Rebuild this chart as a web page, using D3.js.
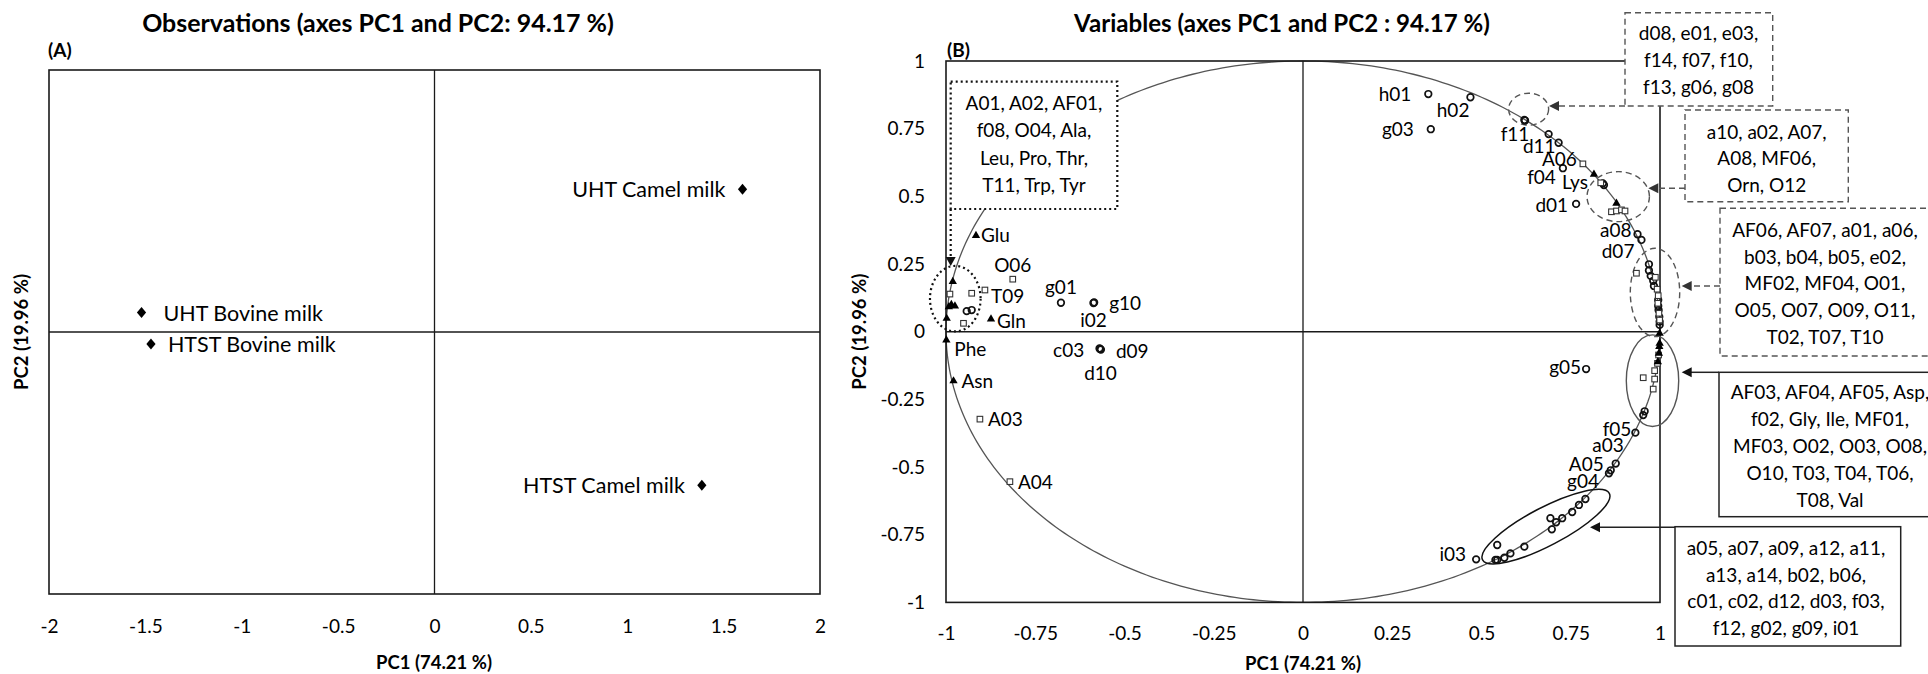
<!DOCTYPE html>
<html><head><meta charset="utf-8">
<script src="https://cdn.jsdelivr.net/npm/d3@7"></script>
<style>
body{margin:0;background:#fff;}
svg text{font-family:Lato,"Open Sans","Liberation Sans",sans-serif;fill:#000;}
</style>
</head><body>
<svg id="chart" width="1928" height="674"></svg>
<script>
// ================= DATA =================
// Panel A: observations
const obsNames = ["UHT Camel milk", "HTST Camel milk", "UHT Bovine milk", "HTST Bovine milk"];
const obsPC1   = [1.598, 1.387, -1.520, -1.471];
const obsPC2   = [1.090, -1.170, 0.148, -0.092];
const obsTicksX = [-2, -1.5, -1, -0.5, 0, 0.5, 1, 1.5, 2];

// Panel B: variables (correlation circle)
const varTicks = [-1, -0.75, -0.5, -0.25, 0, 0.25, 0.5, 0.75, 1];

const circlesLabelled = [
  ["h01", 0.351, 0.878], ["h02", 0.469, 0.866], ["g03", 0.358, 0.748],
  ["f11", 0.620, 0.782], ["d11", 0.716, 0.698], ["f04", 0.728, 0.604],
  ["d01", 0.765, 0.472], ["a08", 0.937, 0.360], ["d07", 0.948, 0.339],
  ["g05", 0.793, -0.138], ["f05", 0.931, -0.373], ["a03", 0.876, -0.487],
  ["A05", 0.862, -0.512], ["g04", 0.857, -0.523], ["i03", 0.485, -0.841],
  ["g01", -0.678, 0.107], ["g10", -0.585, 0.108], ["i02", -0.587, 0.106],
  ["c03", -0.568, -0.064], ["d09", -0.566, -0.066], ["d10", -0.570, -0.062]
];
const circlesOther = [
  [0.622, 0.780], [0.688, 0.730], [0.840, 0.548], [0.843, 0.542],
  [0.969, 0.249], [0.969, 0.226], [0.974, 0.206], [0.981, 0.188], [0.983, 0.169],
  [0.995, 0.117], [0.995, 0.095], [0.996, 0.080], [0.998, 0.055], [0.999, 0.037], [0.999, 0.025],
  [0.957, -0.294], [0.953, -0.308],
  [0.791, -0.618], [0.773, -0.640], [0.754, -0.666], [0.726, -0.689], [0.709, -0.704],
  [0.693, -0.689], [0.697, -0.730], [0.620, -0.794], [0.581, -0.819], [0.564, -0.835],
  [0.544, -0.843], [0.539, -0.843], [0.544, -0.788],
  [-0.942, 0.076], [-0.928, 0.080]
];
const squaresLabelled = [
  ["A06", 0.784, 0.620], ["O06", -0.813, 0.194], ["T09", -0.891, 0.154],
  ["A03", -0.905, -0.323], ["A04", -0.821, -0.554]
];
const squaresOther = [
  [0.834, 0.550], [0.864, 0.443], [0.878, 0.446], [0.892, 0.450], [0.902, 0.446],
  [0.934, 0.216], [0.987, 0.201], [0.992, 0.157], [0.995, 0.133], [0.994, 0.105],
  [0.997, 0.068], [0.999, 0.043],
  [0.953, -0.170], [0.985, -0.175], [0.981, -0.212], [0.985, -0.144], [0.993, -0.117], [0.996, -0.086],
  [-0.989, 0.139], [-0.928, 0.142], [-0.951, 0.031]
];
const trianglesLabelled = [
  ["Glu", -0.916, 0.355], ["Gln", -0.874, 0.047], ["Phe", -0.999, -0.031],
  ["Asn", -0.979, -0.182], ["Lys", 0.815, 0.581]
];
const trianglesOther = [
  [0.878, 0.474], [0.999, -0.006], [0.999, -0.043], [0.998, -0.055], [0.997, -0.080], [0.994, -0.111],
  [-0.981, 0.185], [-0.985, 0.100], [-0.975, 0.095], [-0.992, 0.092], [-0.998, 0.049]
];

// Callout text lists
const groupTopLeft  = ["A01, A02, AF01,", "f08, O04, Ala,", "Leu, Pro, Thr,", "T11, Trp, Tyr"];
const groupTop      = ["d08, e01, e03,", "f14, f07, f10,", "f13, g06, g08"];
const groupLys      = ["a10, a02, A07,", "A08, MF06,", "Orn, O12"];
const groupRightUp  = ["AF06, AF07, a01, a06,", "b03, b04, b05, e02,", "MF02, MF04, O01,", "O05, O07, O09, O11,", "T02, T07, T10"];
const groupRightLow = ["AF03, AF04, AF05,  Asp,", "f02, Gly, Ile, MF01,", "MF03, O02, O03, O08,", "O10, T03, T04, T06,", "T08, Val"];
const groupBottom   = ["a05, a07, a09, a12, a11,", "a13, a14, b02, b06,", "c01, c02, d12, d03, f03,", "f12, g02, g09, i01"];

// ================= LAYOUT / STYLE =================
const svg = d3.select("#chart");
const INK = "#1a1a1a";
const FS = 19;

// label placement (anchor, dx, dy) in px
const labelPos = {
  h01:["end",-17,7], h02:["end",-1,20], g03:["end",-17,7], f11:["end",5,21], d11:["end",-3,10],
  f04:["end",-7,16], d01:["end",-8,8], a08:["end",-6,3], d07:["end",-7,18], g05:["end",-5,5],
  f05:["end",-4,3], a03:["end",8,-12], A05:["end",-7,1], g04:["end",-10,15], i03:["end",-10,2],
  g01:["middle",0,-9], g10:["start",15,8], i02:["middle",0,24], c03:["end",-16,8], d09:["start",15,8],
  d10:["middle",1,32], A06:["end",-6,2], O06:["middle",0,-7], T09:["start",6,13], A03:["start",8,7],
  A04:["start",8,7], Glu:["start",5,6], Gln:["start",6,9], Phe:["start",8,16], Asn:["start",8,7],
  Lys:["end",-6,15]
};

function fitText(sel, width){
  const w = sel.node().getComputedTextLength();
  const fs = parseFloat(sel.attr("font-size"));
  sel.attr("font-size", fs * width / w);
}

// ================= PANEL A =================
const xA = d3.scaleLinear().domain([-2, 2]).range([49, 820]);
const yA = d3.scaleLinear().domain([-2, 2]).range([594, 70]);
const gA = svg.append("g");

gA.append("rect").attr("x", xA(-2)).attr("y", yA(2)).attr("width", xA(2)-xA(-2)).attr("height", yA(-2)-yA(2))
  .attr("fill","none").attr("stroke",INK).attr("stroke-width",1.6);
gA.append("line").attr("x1",xA(-2)).attr("x2",xA(2)).attr("y1",yA(0)).attr("y2",yA(0)).attr("stroke",INK).attr("stroke-width",1.6);
gA.append("line").attr("x1",xA(0)).attr("x2",xA(0)).attr("y1",yA(2)).attr("y2",yA(-2)).attr("stroke",INK).attr("stroke-width",1.3);

const axA = gA.append("g").attr("transform",`translate(0,${yA(-2)})`)
  .call(d3.axisBottom(xA).tickValues(obsTicksX).tickSize(0).tickPadding(26).tickFormat(d=>String(d)));
axA.select(".domain").remove();
axA.selectAll("text").attr("font-size",FS).attr("font-family",null).style("fill","#000");

const obs = obsNames.map((n,i)=>({name:n, x:obsPC1[i], y:obsPC2[i]}));
gA.selectAll("path.dia").data(obs).join("path").attr("class","dia")
  .attr("d","M0,-5.5L4.6,0L0,5.5L-4.6,0Z").attr("fill","#000")
  .attr("transform",d=>`translate(${xA(d.x)},${yA(d.y)})`);
gA.selectAll("text.obs").data(obs).join("text").attr("class","obs")
  .attr("x",d=> xA(d.x) + (d.x>0 ? -17 : (d.y>0?22:17)))
  .attr("y",d=> yA(d.y)+8)
  .attr("text-anchor",d=> d.x>0 ? "end":"start")
  .attr("font-size",21.5).text(d=>d.name);

const tA = gA.append("text").attr("x",378).attr("y",32).attr("text-anchor","middle")
  .attr("font-weight","bold").attr("font-size",21).text("Observations (axes PC1 and PC2: 94.17 %)");
fitText(tA, 472);
gA.append("text").attr("x",48).attr("y",57).attr("font-weight","bold").attr("font-size",19).text("(A)");
gA.append("text").attr("x",434).attr("y",669).attr("text-anchor","middle")
  .attr("font-weight","bold").attr("font-size",18.5).text("PC1 (74.21 %)");
gA.append("text").attr("transform",`translate(28,${yA(0)}) rotate(-90)`).attr("text-anchor","middle")
  .attr("font-weight","bold").attr("font-size",18.5).text("PC2 (19.96 %)");

// ================= PANEL B =================
const xB = d3.scaleLinear().domain([-1, 1]).range([946, 1660]);
const yB = d3.scaleLinear().domain([-1, 1]).range([602.4, 61]);
const gB = svg.append("g");

// unit circle
const circ = d3.range(0, 361, 1).map(a => [Math.cos(a*Math.PI/180), Math.sin(a*Math.PI/180)]);
gB.append("path").attr("d", d3.line().x(d=>xB(d[0])).y(d=>yB(d[1]))(circ))
  .attr("fill","none").attr("stroke","#555").attr("stroke-width",1.3);

gB.append("rect").attr("x",xB(-1)).attr("y",yB(1)).attr("width",xB(1)-xB(-1)).attr("height",yB(-1)-yB(1))
  .attr("fill","none").attr("stroke",INK).attr("stroke-width",1.6);
gB.append("line").attr("x1",xB(-1)).attr("x2",xB(1)).attr("y1",yB(0)).attr("y2",yB(0)).attr("stroke",INK).attr("stroke-width",1.6);
gB.append("line").attr("x1",xB(0)).attr("x2",xB(0)).attr("y1",yB(1)).attr("y2",yB(-1)).attr("stroke",INK).attr("stroke-width",1.3);

const axBx = gB.append("g").attr("transform",`translate(0,${yB(-1)})`)
  .call(d3.axisBottom(xB).tickValues(varTicks).tickSize(0).tickPadding(24).tickFormat(d=>String(d)));
const axBy = gB.append("g").attr("transform",`translate(${xB(-1)},0)`)
  .call(d3.axisLeft(yB).tickValues(varTicks).tickSize(0).tickPadding(21).tickFormat(d=>String(d)));
[axBx, axBy].forEach(a=>{ a.select(".domain").remove(); a.selectAll("text").attr("font-size",FS).attr("font-family",null).style("fill","#000"); });

// group ellipses (drawn under markers)
function ell(cx, cy, rx, ry, dash, col, w){
  gB.append("ellipse").attr("cx",xB(cx)).attr("cy",yB(cy)).attr("rx",rx).attr("ry",ry)
    .attr("fill","none").attr("stroke",col).attr("stroke-width",w).attr("stroke-dasharray",dash);
}
ell(-0.974, 0.122, 25.3, 32.8, "2,3", "#111", 2.2);     // dotted, left cluster
ell(0.632, 0.822, 20, 16, "6,4", "#555", 1.4);          // f11 cluster
ell(0.883, 0.499, 31.2, 25, "6,4", "#555", 1.4);        // Lys cluster
ell(0.986, 0.145, 24.7, 44.2, "6,4", "#555", 1.4);      // right-upper cluster
ell(0.979, -0.181, 26.2, 45.8, null, "#555", 1.4);      // right-lower cluster
// bottom rotated ellipse from its two ends
{
  const p1 = [xB(0.503), yB(-0.843)], p2 = [xB(0.858), yB(-0.597)];
  const cx = (p1[0]+p2[0])/2, cy = (p1[1]+p2[1])/2;
  const a = Math.hypot(p2[0]-p1[0], p2[1]-p1[1])/2;
  const ang = Math.atan2(p2[1]-p1[1], p2[0]-p1[0])*180/Math.PI;
  gB.append("ellipse").attr("cx",0).attr("cy",0).attr("rx",a).attr("ry",19)
    .attr("transform",`translate(${cx},${cy}) rotate(${ang})`)
    .attr("fill","none").attr("stroke","#111").attr("stroke-width",1.5);
}

// markers
const allCircles = circlesOther.map(d=>({x:d[0],y:d[1]})).concat(circlesLabelled.map(d=>({x:d[1],y:d[2]})));
gB.selectAll("circle.v").data(allCircles).join("circle").attr("class","v")
  .attr("cx",d=>xB(d.x)).attr("cy",d=>yB(d.y)).attr("r",3.3)
  .attr("fill","none").attr("stroke","#111").attr("stroke-width",1.7);
const allSquares = squaresOther.map(d=>({x:d[0],y:d[1]})).concat(squaresLabelled.map(d=>({x:d[1],y:d[2]})));
gB.selectAll("rect.v").data(allSquares).join("rect").attr("class","v")
  .attr("x",d=>xB(d.x)-2.8).attr("y",d=>yB(d.y)-2.8).attr("width",5.6).attr("height",5.6)
  .attr("fill","#fff").attr("stroke","#333").attr("stroke-width",1.1);
const allTri = trianglesOther.map(d=>({x:d[0],y:d[1]})).concat(trianglesLabelled.map(d=>({x:d[1],y:d[2]})));
gB.selectAll("path.tri").data(allTri).join("path").attr("class","tri")
  .attr("d", d3.symbol(d3.symbolTriangle, 30))
  .attr("transform",d=>`translate(${xB(d.x)},${yB(d.y)})`).attr("fill","#000");

// labels
const lab = circlesLabelled.concat(squaresLabelled, trianglesLabelled).map(d=>({name:d[0],x:d[1],y:d[2]}));
gB.selectAll("text.lab").data(lab).join("text").attr("class","lab")
  .attr("x",d=>xB(d.x)+labelPos[d.name][1]).attr("y",d=>yB(d.y)+labelPos[d.name][2])
  .attr("text-anchor",d=>labelPos[d.name][0]).attr("font-size",FS).text(d=>d.name);

// arrowhead
function arrowHead(x, y, dir, col){
  const p = dir==="left" ? `M${x},${y}L${x+10},${y-5}L${x+10},${y+5}Z` : `M${x},${y}L${x-5},${y-9}L${x+5},${y-9}Z`;
  gB.append("path").attr("d",p).attr("fill",col);
}
// callout boxes
function callout(lines, x0, y0, x1, y1, cxText, firstBase, step, dash, col, w){
  gB.append("rect").attr("x",x0).attr("y",y0).attr("width",x1-x0).attr("height",y1-y0)
    .attr("fill","#fff").attr("stroke",col).attr("stroke-width",w).attr("stroke-dasharray",dash);
  gB.selectAll(null).data(lines).join("text").attr("x",cxText).attr("y",(d,i)=>firstBase+i*step)
    .attr("text-anchor","middle").attr("font-size",19).text(d=>d);
}
callout(groupTopLeft, 950.7, 81.7, 1117.3, 209, 1034, 110, 27.3, "2,3", "#111", 2.2);
gB.append("line").attr("x1",950.7).attr("x2",950.7).attr("y1",209).attr("y2",257).attr("stroke","#111").attr("stroke-width",2.2).attr("stroke-dasharray","2,3");
arrowHead(950.7, 266, "down", "#111");

callout(groupTop, 1625, 12.7, 1772.7, 106, 1698.5, 40, 27, "6,4", "#555", 1.4);
gB.append("line").attr("x1",1625).attr("x2",1558).attr("y1",106).attr("y2",106).attr("stroke","#555").attr("stroke-width",1.4).attr("stroke-dasharray","6,4");
arrowHead(1549, 106, "left", "#333");

callout(groupLys, 1685, 110, 1848.3, 201.7, 1766.7, 138.5, 26.7, "6,4", "#555", 1.4);
gB.append("line").attr("x1",1685).attr("x2",1658).attr("y1",188.3).attr("y2",188.3).attr("stroke","#555").attr("stroke-width",1.4).attr("stroke-dasharray","6,4");
arrowHead(1648.3, 188.3, "left", "#333");

callout(groupRightUp, 1720, 208.3, 1940, 356, 1825, 237, 26.7, "6,4", "#555", 1.4);
gB.append("line").attr("x1",1720).attr("x2",1691).attr("y1",286).attr("y2",286).attr("stroke","#555").attr("stroke-width",1.4).attr("stroke-dasharray","6,4");
arrowHead(1681.7, 286, "left", "#333");

callout(groupRightLow, 1719, 372.3, 1940, 516.7, 1830, 398.5, 27, null, "#222", 1.5);
gB.append("line").attr("x1",1719).attr("x2",1690).attr("y1",372.3).attr("y2",372.3).attr("stroke","#222").attr("stroke-width",1.5);
arrowHead(1681.7, 372.3, "left", "#111");

callout(groupBottom, 1675, 526.7, 1900.7, 646, 1786, 555, 26.5, null, "#222", 1.5);
gB.append("line").attr("x1",1675).attr("x2",1598).attr("y1",527.3).attr("y2",527.3).attr("stroke","#222").attr("stroke-width",1.5);
arrowHead(1590, 527.3, "left", "#111");

// titles
const tB = gB.append("text").attr("x",1282).attr("y",32).attr("text-anchor","middle")
  .attr("font-weight","bold").attr("font-size",21).text("Variables (axes PC1 and PC2 : 94.17 %)");
fitText(tB, 416);
gB.append("text").attr("x",947).attr("y",57).attr("font-weight","bold").attr("font-size",19).text("(B)");
gB.append("text").attr("x",1303).attr("y",670).attr("text-anchor","middle")
  .attr("font-weight","bold").attr("font-size",18.5).text("PC1 (74.21 %)");
gB.append("text").attr("transform",`translate(866,${yB(0)}) rotate(-90)`).attr("text-anchor","middle")
  .attr("font-weight","bold").attr("font-size",18.5).text("PC2 (19.96 %)");
</script>
</body></html>
